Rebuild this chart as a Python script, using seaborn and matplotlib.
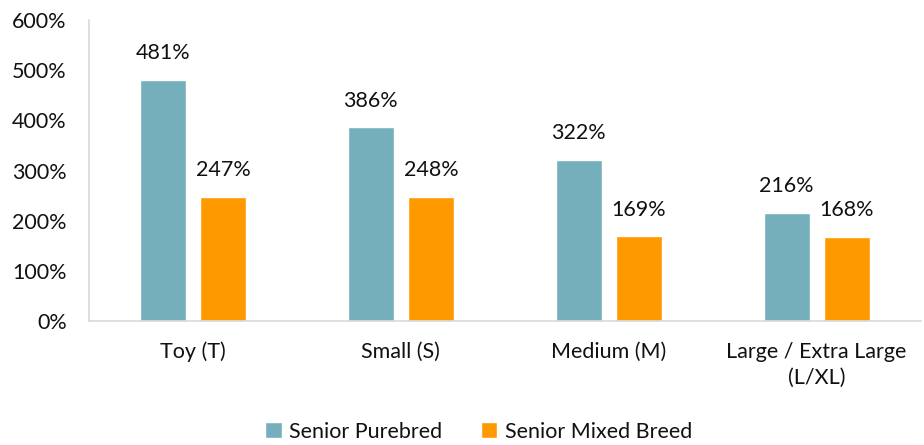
import pandas as pd
import matplotlib.pyplot as plt
import seaborn as sns
from matplotlib.patches import Patch

# values (percent)
sizes = ['Toy (T)', 'Small (S)', 'Medium (M)', 'Large / Extra Large\n(L/XL)']
purebred = [481, 386, 322, 216]
mixed = [247, 248, 169, 168]
series = ['Senior Purebred', 'Senior Mixed Breed']
colors = ['#74AFBB', '#FF9900']

df = pd.DataFrame({
    'size': sizes * 2,
    'value': purebred + mixed,
    'group': [series[0]] * len(sizes) + [series[1]] * len(sizes),
})

sns.set_style('white')
plt.rcParams['font.family'] = ['Lato', 'DejaVu Sans']
plt.rcParams['text.color'] = '#111111'
plt.rcParams['xtick.color'] = '#111111'
plt.rcParams['ytick.color'] = '#111111'

fig = plt.figure(figsize=(9.24, 4.45), dpi=100)
ax = fig.add_axes([0.0963, 0.2787, 0.9, 0.676])

sns.barplot(data=df, x='size', y='value', hue='group', palette=colors,
            width=0.578, gap=0.233, saturation=1, ax=ax, legend=False)

# data labels above each bar
for container in ax.containers:
    ax.bar_label(container, labels=[f'{v:.0f}%' for v in container.datavalues],
                 padding=12, fontsize=15.5, color='#111111')

ax.set_ylim(0, 600)
ax.set_yticks(range(0, 601, 100))
ax.set_yticklabels([f'{t}%' for t in range(0, 601, 100)], fontsize=15.5)
ax.set_xlim(-0.5, len(sizes) - 0.5)
ax.tick_params(axis='x', labelsize=15.5, length=0, pad=15)
ax.tick_params(axis='y', length=0, pad=16)
for lbl in ax.get_xticklabels():
    lbl.set_linespacing(1.35)
ax.set_xlabel('')
ax.set_ylabel('')

for side in ['top', 'right']:
    ax.spines[side].set_visible(False)
for side in ['left', 'bottom']:
    ax.spines[side].set_color('#d9d9d9')
    ax.spines[side].set_linewidth(1.2)

handles = [Patch(facecolor=c, label=s) for c, s in zip(colors, series)]
fig.legend(handles=handles, loc='center', bbox_to_anchor=(0.518, 0.03),
           ncol=2, frameon=False, fontsize=15.5, handlelength=0.75,
           handleheight=0.75, handletextpad=0.35, columnspacing=1.8,
           borderpad=0)

fig.savefig('out.png', dpi=100)
